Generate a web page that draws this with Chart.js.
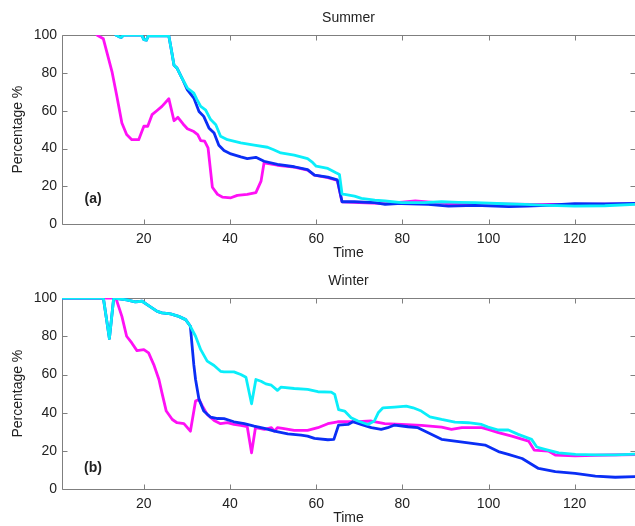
<!DOCTYPE html>
<html><head><meta charset="utf-8">
<script src="https://cdn.jsdelivr.net/npm/chart.js@4"></script>
<style>
html,body{margin:0;padding:0;background:#fff;}
#wrap{position:relative;width:635px;height:526px;overflow:hidden;}
canvas{position:absolute;left:0;}
</style></head><body>
<div id="wrap">
<canvas id="c1" width="635" height="263" style="top:0"></canvas>
<canvas id="c2" width="635" height="263" style="top:263px"></canvas>
</div>
<script>
// ---------- data ----------
const xTicks = [20, 40, 60, 80, 100, 120];
const yTicks = [0, 20, 40, 60, 80, 100];

// Summer
const sumCyanT = [13.5,14.3,14.8,15.3,19.5,20.0,20.6,21.0,25.8,26.4,27.0,27.7,28.9,30.1,31.6,32.3,33.2,34.3,35.5,36.7,37.8,39.4,42.5,45.6,48.7,50,51.8,54.9,58,59,60,62.7,64.6,65.4,66.0,66.6,68.9,70.5,73.6,76,79.8,85,89.1,93,96.9,102,108.5,114,120,127,134];
const sumCyanV = [100,99,98.8,100,100,97.5,97.3,99.5,99.5,92,84,82.5,77,72,69.3,66,62.3,60.5,55.3,52.6,46.5,44.7,43,41.8,40.7,39.5,37.7,36.5,34.7,33,30.7,29.5,27.2,26.3,16,15.8,14.9,13.7,12.8,12.3,11.4,11.5,11.9,11.6,11.4,11,10.5,10,9.6,9.8,10.5];
const sumBlueT = [13.5,14.3,14.8,15.3,19.5,20.0,20.6,21.0,25.8,26.4,27,27.7,28.9,30.1,31.6,32.8,33.9,35.1,36.3,37.4,38.6,40.2,42.5,44,46,47.9,51,54.9,58,59.6,62.7,64.9,66,68.9,73.6,76,79.8,86,90.7,96.9,104.7,109,115,120,127,134];
const sumBlueV = [100,99,98.8,100,100,97.5,97.3,99.5,99.5,92,84,82.5,77,71,66.7,59.6,57,50.9,48.2,41.8,39,37.2,35.6,34.7,35.4,33.3,31.6,30.4,28.9,26,24.9,23.5,11.9,11.9,11.4,10.5,11,10.5,9.6,10,9.3,9.6,10.2,10.9,10.8,11];
const sumMagT = [9.1,10.6,12.6,13.7,14.9,16,17.2,18.8,20,20.9,21.9,23,24.2,25.8,27,27.9,29.1,30.1,31.6,32.5,33.2,34.1,34.9,35.9,37.1,38.2,40.2,41.7,44,46,47.2,47.9,51,54.9,58,59.6,62.7,64.9,66,70,76,80,83,90,100,110,120,134];
const sumMagV = [100,98,80.7,68,53.5,47.4,44.7,44.7,51.8,51.8,57.9,60,62.3,66.3,54.7,56.5,53,50.5,49,47.4,44.2,43.9,40.4,19.6,15.8,14.4,14,15.3,15.8,16.7,22.8,32.5,31.2,30.2,28.6,26,24.6,23.2,11.8,11.5,11,11.7,12.3,11,10.8,10.5,10.5,10.8];

// Winter
const winCyanT = [1,10.6,12,13,16,18,19.6,21.1,23.1,24.2,26.2,28.1,29.7,30.8,32,33.2,34.7,36.3,37.8,38.6,40.9,42.5,43.7,45,46,47.2,48.3,49.6,51,51.8,54.9,58,60.4,63.5,64.3,65.2,66.6,68.1,69.7,72,73.5,74.4,75.5,78.2,80.9,82.5,84.4,86.4,89.1,92.2,95.3,98.4,99.9,102.3,104.6,106.9,110,111.2,113.1,116.3,120.2,124.8,129.5,134];
const winCyanV = [100,100,78.8,100,99,98,98.3,96,93,92.2,91.7,90.4,88.7,85.2,80,73,67,64.7,61.7,61.4,61.4,60,58.6,44.7,57.4,56.5,55.1,54.4,51.7,53.4,52.7,52.2,51,50.8,49.6,41.7,40.9,37.4,35.7,33.9,35.7,40,42.6,43,43.5,42.6,40.9,37.9,36.5,35.1,34.8,33.9,32.5,31,31,28.7,26.1,22.1,20.9,19,18.3,18,18,18.4];
const winBlueT = [1,10.6,12,13,16,18,19.6,21.1,23.1,24.2,26.2,28.1,29.7,30.8,31.2,31.6,32,32.8,33.9,35.5,37.1,38.6,40.9,43.3,45.6,48,50.3,53.4,56.5,58,59.6,62.7,64.1,65.2,67.4,68.5,70.4,72.8,75.1,76.6,78.2,81.3,83.6,86,89.1,92.2,95.3,99.2,102.3,104.6,107.8,111.6,115.5,120.1,124.8,129.4,134];
const winBlueV = [100,100,78.8,100,99,98,98.3,96,93,92.2,91.7,90.4,88.7,85.2,75,65,57.4,47,40.9,37.7,37,36.9,35.3,34.3,33,31.8,30.4,29,28.3,27.8,26.6,25.9,26.1,33.6,33.9,35.3,33.9,32.2,31.3,32.2,33.6,32.7,32.2,29.6,26.1,25.2,24.3,23.1,19.7,18.3,16.1,10.9,9.2,8.3,6.9,6.3,6.6];
const winMagT = [1,13.5,14.9,16,17.2,18.4,20,21.1,22.3,23.5,24.2,25.2,26.6,27.7,29.3,30.8,32,32.8,33.6,34.7,36.3,37.8,39.4,40.9,42.5,44,45,45.9,48,49.6,50.3,51,52.2,54.9,58,60.4,62.7,65,69.7,72.8,75.9,79.8,84.4,89.1,91.4,93.8,98.4,99.9,102.3,105.4,109.3,110.6,113.9,115.5,120.1,124.8,134];
const winMagV = [100,100,90.4,80,76.5,72.5,73,71.3,65.2,57.4,50.4,40.9,36.5,34.8,34.3,30.4,46.1,47,43.5,39.1,36,34.3,34.8,33.9,33.4,32.7,19.1,32.2,31.3,32.2,30.4,32.2,31.8,30.8,30.8,32.2,34.3,35.3,35.3,35.7,34.3,33.9,33.4,32.5,31.3,32.2,32.2,31.3,29.6,27.8,25.2,20.5,20,17.9,17.5,17.8,18.2];

// ---------- helpers ----------
const FONT = "'Liberation Sans', Arial, Helvetica, sans-serif";
const TXT = '#222222';
const FRAME = '#7f7f7f';
const pts = (T, V) => T.map((t, i) => ({x: t, y: V[i]}));

const framePlugin = {
  id: 'frame',
  beforeDatasetsDraw(chart) {
    const {ctx, chartArea: a, scales: {x, y}} = chart;
    ctx.save();
    ctx.strokeStyle = FRAME;
    ctx.lineWidth = 1;
    ctx.beginPath();
    const L = Math.round(a.left) + 0.5, T = Math.round(a.top) + 0.5;
    const R = Math.round(a.right) + 0.5, B = Math.round(a.bottom) + 0.5;
    ctx.moveTo(L, T); ctx.lineTo(R, T); ctx.lineTo(R, B); ctx.lineTo(L, B); ctx.closePath();
    x.ticks.forEach(t => {
      const px = Math.round(x.getPixelForValue(t.value)) + 0.5;
      ctx.moveTo(px, B); ctx.lineTo(px, B - 5);
      ctx.moveTo(px, T); ctx.lineTo(px, T + 5);
    });
    y.ticks.forEach(t => {
      const py = Math.round(y.getPixelForValue(t.value)) + 0.5;
      ctx.moveTo(L, py); ctx.lineTo(L + 5, py);
      ctx.moveTo(R, py); ctx.lineTo(R - 5, py);
    });
    ctx.stroke();
    ctx.restore();
  },
  afterDatasetsDraw(chart, args, opts) {
    const {ctx, scales: {x, y}} = chart;
    ctx.save();
    ctx.fillStyle = TXT;
    ctx.font = 'bold 14px ' + FONT;
    ctx.textAlign = 'center';
    ctx.textBaseline = 'middle';
    ctx.fillText(opts.label, x.getPixelForValue(opts.lx), y.getPixelForValue(opts.ly));
    ctx.restore();
  }
};

function makeChart(id, title, sets, panel, axisH, timePad) {
  const [cT, cV, bT, bV, mT, mV] = sets;
  return new Chart(document.getElementById(id), {
    type: 'line',
    data: {
      datasets: [
        {label: 'cyan', data: pts(cT, cV), borderColor: '#0AEEFA'},
        {label: 'blue', data: pts(bT, bV), borderColor: '#0A2EF5'},
        {label: 'magenta', data: pts(mT, mV), borderColor: '#FF10F5'}
      ].map(d => Object.assign(d, {borderWidth: 2.8, pointRadius: 0, tension: 0, clip: 0,
        borderJoinStyle: 'round', borderCapStyle: 'round', fill: false}))
    },
    options: {
      responsive: false,
      animation: false,
      events: [],
      layout: {padding: {left: 0, right: 0, top: 0, bottom: 0}},
      plugins: {
        legend: {display: false},
        tooltip: {enabled: false},
        title: {display: true, fullSize: false, text: title, color: TXT,
          font: {family: FONT, size: 14, weight: 'normal'}, padding: {top: 10, bottom: 8.2}},
        frame: panel
      },
      scales: {
        x: {
          type: 'linear', min: 1, max: 134,
          grid: {display: false, drawTicks: false},
          border: {display: false},
          afterBuildTicks: s => { s.ticks = xTicks.map(v => ({value: v})); },
          afterFit: s => { s.height = axisH; },
          ticks: {color: TXT, font: {family: FONT, size: 14}, padding: 6, maxRotation: 0, autoSkip: false},
          title: {display: true, text: 'Time', color: TXT, font: {family: FONT, size: 14}, padding: {top: 0, bottom: timePad}}
        },
        y: {
          type: 'linear', min: 0, max: 100,
          grid: {display: false, drawTicks: false},
          border: {display: false},
          afterBuildTicks: s => { s.ticks = yTicks.map(v => ({value: v})); },
          afterFit: s => { s.width = 62; },
          ticks: {color: TXT, font: {family: FONT, size: 14}, padding: 5},
          title: {display: true, text: 'Percentage %', color: TXT, font: {family: FONT, size: 14}, padding: {top: 10, bottom: 0}}
        }
      }
    },
    plugins: [framePlugin]
  });
}

makeChart('c1', 'Summer', [sumCyanT, sumCyanV, sumBlueT, sumBlueV, sumMagT, sumMagV],
  {label: '(a)', lx: 8.2, ly: 13.4}, 38.7, 1.6);
makeChart('c2', 'Winter', [winCyanT, winCyanV, winBlueT, winBlueV, winMagT, winMagV],
  {label: '(b)', lx: 8.2, ly: 10.9}, 36.7, -1);
</script>
</body></html>
